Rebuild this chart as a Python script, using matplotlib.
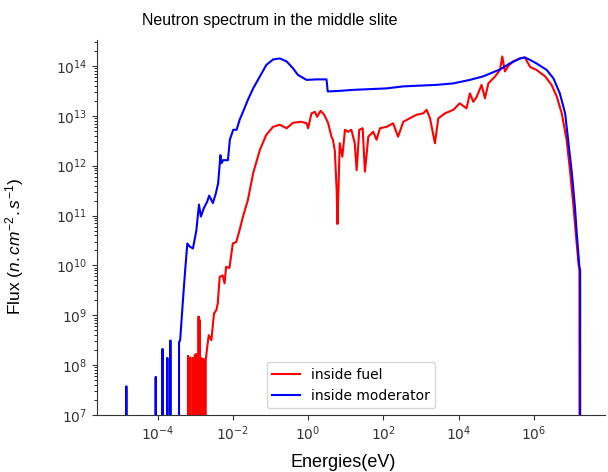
import numpy as np
import matplotlib
matplotlib.use("Agg")
import matplotlib.pyplot as plt
from matplotlib.ticker import NullLocator, FixedLocator, LogFormatterSciNotation

plt.rcParams["mathtext.fontset"] = "custom"
plt.rcParams["mathtext.rm"] = "Liberation Sans"
plt.rcParams["mathtext.it"] = "Liberation Sans:italic"
plt.rcParams["mathtext.default"] = "it"

LOW = -5.0  # log10 flux used for "zero" bins (below the visible range)

# ---- inside moderator (blue): log10 energy (eV) and log10 flux ----
mod_log_energy = [-4.83, -4.83, -4.83, -4.05, -4.05, -4.05, -3.87, -3.87, -3.87,
                  -3.74, -3.74, -3.74, -3.66, -3.66, -3.66, -3.43, -3.43, -3.40,
                  -3.32, -3.26, -3.21, -3.15, -3.06, -2.97, -2.90, -2.85, -2.77,
                  -2.68, -2.63, -2.53, -2.45, -2.39, -2.33, -2.30, -2.26, -2.13,
                  -2.08, -1.99, -1.90, -1.82, -1.73, -1.60, -1.46, -1.28, -1.11,
                  -0.93, -0.75, -0.57, -0.40, -0.27, -0.04, 0.22, 0.49, 0.52,
                  0.58, 0.84, 1.20, 2.09, 2.53, 3.41, 3.86, 4.30, 4.65, 5.10,
                  5.36, 5.63, 5.76, 5.90, 6.07, 6.34, 6.52, 6.69, 6.83, 6.91,
                  7.01, 7.09, 7.14, 7.21, 7.23, 7.23]
mod_log_flux = [LOW, 7.57, LOW, LOW, 7.76, LOW, LOW, 8.32, LOW,
                LOW, 8.14, LOW, LOW, 8.49, LOW, LOW, 8.46, 8.50,
                9.37, 9.97, 10.44, 10.38, 10.34, 10.70, 11.22, 10.98, 11.15,
                11.28, 11.40, 11.25, 11.45, 11.65, 12.21, 12.05, 12.11, 12.11,
                12.52, 12.72, 12.72, 12.92, 13.08, 13.32, 13.55, 13.79, 14.02,
                14.13, 14.15, 14.09, 13.95, 13.82, 13.72, 13.73, 13.73, 13.49,
                13.49, 13.50, 13.52, 13.55, 13.59, 13.62, 13.65, 13.72, 13.79, 13.93,
                14.05, 14.15, 14.17, 14.12, 14.05, 13.92, 13.75, 13.45, 13.05, 12.52,
                11.85, 11.18, 10.64, 9.97, 9.90, LOW]

# ---- inside fuel (red) ----
fuel_log_energy = [-3.19, -3.19, -3.19, -3.13, -3.13, -3.13, -3.06, -3.06, -3.06,
                   -3.01, -3.01, -3.01, -2.97, -2.97, -2.97, -2.91, -2.91, -2.91,
                   -2.88, -2.88, -2.88, -2.84, -2.84, -2.84, -2.78, -2.78, -2.78,
                   -2.72, -2.72, -2.68, -2.64, -2.57, -2.50, -2.44, -2.40, -2.35,
                   -2.27, -2.22, -2.18, -2.09, -2.00, -1.91, -1.82, -1.73, -1.60,
                   -1.46, -1.28, -1.11, -0.93, -0.75, -0.57, -0.40, -0.18, -0.04,
                   0.00, 0.09, 0.18, 0.24, 0.33, 0.42, 0.53, 0.62, 0.66, 0.71,
                   0.76, 0.78, 0.81, 0.84, 0.91, 0.98, 1.06, 1.15, 1.24, 1.29,
                   1.36, 1.45, 1.51, 1.60, 1.73, 1.82, 1.91, 2.09, 2.26, 2.39,
                   2.53, 2.70, 2.88, 3.06, 3.15, 3.24, 3.37, 3.46, 3.64, 3.86,
                   4.03, 4.21, 4.30, 4.39, 4.48, 4.61, 4.70, 4.79, 4.97, 5.10,
                   5.16, 5.23, 5.32, 5.45, 5.63, 5.76, 5.90, 6.07, 6.30, 6.47,
                   6.61, 6.74, 6.87, 6.96, 7.05, 7.13, 7.19, 7.21, 7.22]
fuel_log_flux = [LOW, 8.18, LOW, LOW, 8.15, LOW, LOW, 8.14, LOW,
                 LOW, 8.20, LOW, LOW, 8.22, LOW, LOW, 8.97, LOW,
                 LOW, 8.90, LOW, LOW, 8.14, LOW, LOW, 8.12, LOW,
                 LOW, 8.10, 8.37, 8.60, 8.50, 9.04, 9.10, 9.24, 9.77,
                 9.80, 9.64, 9.97, 9.95, 10.44, 10.47, 10.71, 10.98, 11.31,
                 11.85, 12.32, 12.62, 12.78, 12.82, 12.75, 12.86, 12.88, 12.85,
                 12.75, 13.05, 13.08, 12.98, 13.10, 13.03, 12.86, 12.58, 12.52, 12.30,
                 11.50, 10.83, 11.60, 12.45, 12.18, 12.72, 12.68, 12.72, 12.45, 11.91,
                 12.72, 12.75, 11.88, 12.58, 12.68, 12.52, 12.75, 12.78, 12.85, 12.58,
                 12.88, 12.95, 13.02, 13.05, 13.12, 12.95, 12.45, 12.95, 13.05, 13.12,
                 13.25, 13.15, 13.45, 13.28, 13.38, 13.62, 13.35, 13.65, 13.79, 13.92,
                 14.19, 13.89, 14.00, 14.09, 14.15, 14.17, 13.98, 13.92, 13.79, 13.62,
                 13.38, 13.05, 12.52, 11.90, 11.20, 10.50, 10.00, 9.91, LOW]

x_tick_exponents = [-4, -2, 0, 2, 4, 6]
y_tick_exponents = [7, 8, 9, 10, 11, 12, 13, 14]
series_labels = ["inside fuel", "inside moderator"]
title_text = "Neutron spectrum in the middle slite"

fig = plt.figure(figsize=(6.08, 4.72), dpi=100)
ax = fig.add_axes([97 / 608, 1 - 415 / 472, (605 - 97) / 608, (415 - 40) / 472])

ax.plot(10.0 ** np.array(fuel_log_energy), 10.0 ** np.array(fuel_log_flux),
        color="red", lw=1.5, label=series_labels[0])
ax.plot(10.0 ** np.array(mod_log_energy), 10.0 ** np.array(mod_log_flux),
        color="blue", lw=1.5, label=series_labels[1])

ax.set_xscale("log")
ax.set_yscale("log")
ax.set_xlim(10 ** -5.61, 10 ** 7.89)
ax.set_ylim(1e7, 10 ** 14.52)

ax.xaxis.set_major_locator(FixedLocator([10.0 ** e for e in x_tick_exponents]))
ax.xaxis.set_minor_locator(NullLocator())
ax.yaxis.set_major_locator(FixedLocator([10.0 ** e for e in y_tick_exponents]))
y_minor = [m * 10.0 ** e for e in y_tick_exponents for m in range(2, 10)
           if m * 10.0 ** e <= 10 ** 14.52]
ax.yaxis.set_minor_locator(FixedLocator(y_minor))
ax.xaxis.set_major_formatter(LogFormatterSciNotation())
ax.yaxis.set_major_formatter(LogFormatterSciNotation())

for s in ("top", "right"):
    ax.spines[s].set_visible(False)
for s in ("left", "bottom"):
    ax.spines[s].set_color("#333333")
ax.tick_params(colors="#333333", labelsize=10)

lab_font = "Liberation Sans"
ax.set_xlabel("Energies(eV)", fontsize=13, family=lab_font)
ax.xaxis.set_label_coords(0.484, -0.105)
ax.set_ylabel(r"Flux ($n.cm^{-2}.s^{-1}$)", fontsize=12.5, family=lab_font)
ax.yaxis.set_label_coords(-0.14, 0.45)
fig.text(270 / 608, 1 - 20 / 472, title_text, ha="center", va="center",
         fontsize=11.5, family=lab_font)

ax.legend(loc="lower center", fontsize=10, frameon=True)

fig.savefig("out.png", dpi=100)
